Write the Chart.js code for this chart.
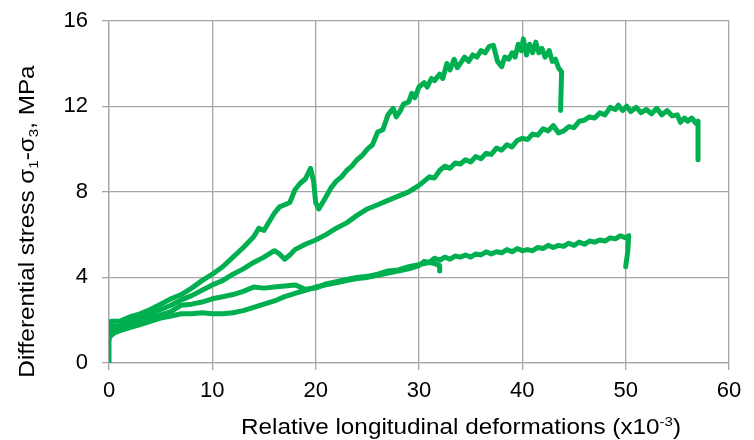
<!DOCTYPE html>
<html>
<head>
<meta charset="utf-8">
<script src="https://cdn.jsdelivr.net/npm/chart.js@4.4.1/dist/chart.umd.min.js"></script>
<style>
  html, body { margin: 0; padding: 0; background: #fff; }
  #wrap { width: 754px; height: 440px; }
</style>
</head>
<body>
<div id="wrap"><canvas id="c" width="754" height="440"></canvas></div>
<script>
// readings: x in 10^-3, stress in MPa
const curveA = [[0,1.5],[0.2,1.95],[1,1.95],[2,2.15],[3,2.3],[4,2.5],[5,2.75],[6,3.0],[7,3.2],[8,3.5],[9,3.85],[10,4.15],[11,4.5],[12,4.95],[13,5.4],[14,5.9],[14.5,6.3],[15,6.2],[15.5,6.6],[16,7.0],[16.5,7.3],[17,7.4],[17.5,7.5],[18,8.1],[18.5,8.4],[19,8.6],[19.5,9.1],[19.8,8.5],[20,7.5],[20.3,7.2],[20.8,7.6],[21.5,8.2],[22,8.5],[22.5,8.7],[23,9.0],[23.5,9.2],[24,9.5],[24.5,9.7],[25,10.0],[25.5,10.2],[26,10.8],[26.5,10.9],[27,11.6],[27.5,11.9],[27.8,11.5],[28.2,11.8],[28.5,12.1],[29,12.2],[29.3,12.6],[29.6,12.4],[30,12.9],[30.5,13.1],[30.8,12.9],[31.2,13.3],[31.5,13.2],[32,13.5],[32.3,13.3],[32.7,14.0],[33,13.7],[33.4,14.2],[33.7,13.8],[34,14.0],[34.4,14.3],[34.8,14.1],[35.2,14.4],[35.6,14.3],[36,14.6],[36.4,14.5],[36.8,14.8],[37.2,14.85],[37.6,14.1],[38,13.85],[38.3,14.3],[38.7,14.2],[39,14.5],[39.3,14.3],[39.6,14.9],[39.9,14.6],[40.1,15.15],[40.4,14.4],[40.7,14.9],[41,14.5],[41.3,15.0],[41.6,14.5],[41.9,14.7],[42.2,14.3],[42.6,14.6],[42.9,14.1],[43.2,14.2],[43.5,13.8],[43.8,13.6],[43.7,11.8]];
const curveB = [[0,1.3],[0.2,1.7],[1,1.75],[2,1.95],[3,2.1],[4,2.3],[5,2.5],[6,2.7],[7,2.95],[8,3.15],[9,3.4],[10,3.65],[11,3.85],[12,4.15],[13,4.4],[14,4.7],[15,4.95],[16,5.25],[16.5,5.1],[17,4.85],[17.5,5.05],[18,5.3],[19,5.55],[20,5.75],[21,6.0],[22,6.3],[23,6.55],[24,6.9],[25,7.2],[26,7.4],[27,7.6],[28,7.8],[29,8.0],[30,8.3],[30.5,8.5],[31,8.7],[31.5,8.65],[32,9.0],[32.5,9.2],[33,9.1],[33.5,9.35],[34,9.3],[34.5,9.5],[35,9.4],[35.5,9.65],[36,9.55],[36.5,9.8],[37,9.75],[37.5,10.05],[38,9.95],[38.5,10.2],[39,10.1],[39.5,10.4],[40,10.5],[40.5,10.45],[41,10.7],[41.5,10.65],[42,10.95],[42.5,10.85],[43,11.1],[43.5,10.75],[44,10.85],[44.5,11.05],[45,11.0],[45.5,11.3],[46,11.35],[46.5,11.5],[47,11.45],[47.5,11.7],[48,11.6],[48.5,11.95],[49,11.85],[49.3,12.05],[49.7,11.8],[50.1,12.0],[50.5,11.75],[51,11.95],[51.5,11.7],[52,11.85],[52.5,11.65],[53,11.9],[53.5,11.6],[54,11.8],[54.5,11.55],[55,11.6],[55.3,11.25],[55.7,11.45],[56,11.3],[56.4,11.45],[56.8,11.2],[57,11.3],[57,9.5]];
const curveC = [[0,1.1],[0.2,1.5],[1,1.6],[2,1.8],[3,1.95],[4,2.1],[5,2.25],[6,2.4],[7,2.7],[8,2.75],[9,2.85],[10,3.0],[11,3.1],[12,3.2],[13,3.35],[14,3.55],[15,3.5],[16,3.55],[17,3.6],[18,3.65],[19,3.45],[20,3.5],[21,3.7],[22,3.8],[23,3.9],[24,4.0],[25,4.05],[26,4.15],[27,4.3],[28,4.35],[29,4.5],[30,4.6],[31,4.7],[31.5,4.65],[32,4.55],[32,4.3]];
const curveD = [[0,0],[0,1.2],[0.5,1.4],[1,1.5],[2,1.65],[3,1.8],[4,1.95],[5,2.1],[6,2.2],[7,2.3],[8,2.3],[9,2.35],[10,2.3],[11,2.3],[12,2.35],[13,2.45],[14,2.6],[15,2.75],[16,2.9],[17,3.1],[18,3.25],[19,3.4],[20,3.55],[21,3.65],[22,3.75],[23,3.85],[24,3.95],[25,4.0],[26,4.1],[27,4.2],[28,4.3],[29,4.4],[30,4.55],[30.5,4.75],[31,4.7],[31.5,4.9],[32,4.8],[32.5,4.95],[33,4.85],[33.5,5.0],[34,4.95],[34.5,5.05],[35,4.95],[35.5,5.1],[36,5.05],[36.5,5.2],[37,5.1],[37.5,5.2],[38,5.15],[38.5,5.3],[39,5.2],[39.5,5.35],[40,5.25],[40.5,5.3],[41,5.25],[41.5,5.4],[42,5.35],[42.5,5.5],[43,5.4],[43.5,5.5],[44,5.45],[44.5,5.6],[45,5.5],[45.5,5.65],[46,5.55],[46.5,5.7],[47,5.65],[47.5,5.75],[48,5.7],[48.5,5.85],[49,5.8],[49.5,5.95],[50,5.85],[50.3,5.95],[50.2,5.2],[50,4.5]];

const xTicks = [0, 10, 20, 30, 40, 50, 60];
const yTicks = [0, 4, 8, 12, 16];

const green = '#00b050';
const gridGray = '#a6a6a6';
const fontFam = '"Liberation Sans", Arial, sans-serif';

function toPts(arr) {
  return arr.map(p => ({ x: p[0], y: p[1] }));
}

function mkSet(arr) {
  return {
    data: toPts(arr),
    showLine: true,
    borderColor: green,
    backgroundColor: green,
    borderWidth: 5,
    pointRadius: 0,
    tension: 0,
    borderJoinStyle: 'round',
    borderCapStyle: 'round'
  };
}

// draws a run of text pieces, some raised or lowered; glyphs a bit wider like the original
function drawRich(ctx, parts, size, stretch) {
  let w = 0;
  parts.forEach(p => {
    ctx.font = (p.s ? size * 0.62 : size) + 'px ' + fontFam;
    p.w = ctx.measureText(p.t).width;
    w += p.w;
  });
  ctx.scale(stretch, 1);
  let x = -w / 2;
  parts.forEach(p => {
    ctx.font = (p.s ? size * 0.62 : size) + 'px ' + fontFam;
    ctx.fillText(p.t, x, p.s || 0);
    x += p.w;
  });
}

const axisTitles = {
  id: 'axisTitles',
  afterDraw(chart) {
    const ctx = chart.ctx;
    ctx.save();
    ctx.fillStyle = '#000';
    ctx.textBaseline = 'alphabetic';
    ctx.textAlign = 'left';
    ctx.translate(461, 433.5);
    drawRich(ctx, [
      { t: 'Relative longitudinal deformations (x10' },
      { t: '-3', s: -8 },
      { t: ')' }
    ], 21.5, 1.13);
    ctx.restore();

    ctx.save();
    ctx.fillStyle = '#000';
    ctx.translate(33.5, 221.5);
    ctx.rotate(-Math.PI / 2);
    drawRich(ctx, [
      { t: 'Differential stress σ' },
      { t: '1', s: 4 },
      { t: '-σ' },
      { t: '3', s: 4 },
      { t: ', MPa' }
    ], 21.5, 1.13);
    ctx.restore();
  }
};

new Chart(document.getElementById('c'), {
  type: 'scatter',
  data: { datasets: [mkSet(curveA), mkSet(curveB), mkSet(curveC), mkSet(curveD)] },
  options: {
    responsive: false,
    animation: false,
    layout: { padding: { left: 0, right: 25, top: 20.7, bottom: 0 } },
    plugins: { legend: { display: false }, tooltip: { enabled: false } },
    scales: {
      x: {
        type: 'linear',
        min: 0,
        max: 60,
        afterBuildTicks: s => { s.ticks = xTicks.map(v => ({ value: v })); },
        afterFit: s => { s.height = 77; s.paddingLeft = 0; s.paddingRight = 0; },
        grid: { color: gridGray, lineWidth: 1.3, tickLength: 7, drawTicks: true },
        border: { color: gridGray, width: 1.3 },
        ticks: { color: '#000', padding: 8, font: { family: fontFam, size: 22 }, maxRotation: 0 }
      },
      y: {
        type: 'linear',
        min: 0,
        max: 16,
        afterBuildTicks: s => { s.ticks = yTicks.map(v => ({ value: v })); },
        afterFit: s => { s.width = 109; s.paddingTop = 0; s.paddingBottom = 0; },
        grid: { color: gridGray, lineWidth: 1.3, tickLength: 7, drawTicks: true },
        border: { color: gridGray, width: 1.3 },
        ticks: { color: '#000', padding: 14, font: { family: fontFam, size: 22 } }
      }
    }
  },
  plugins: [axisTitles]
});
</script>
</body>
</html>
